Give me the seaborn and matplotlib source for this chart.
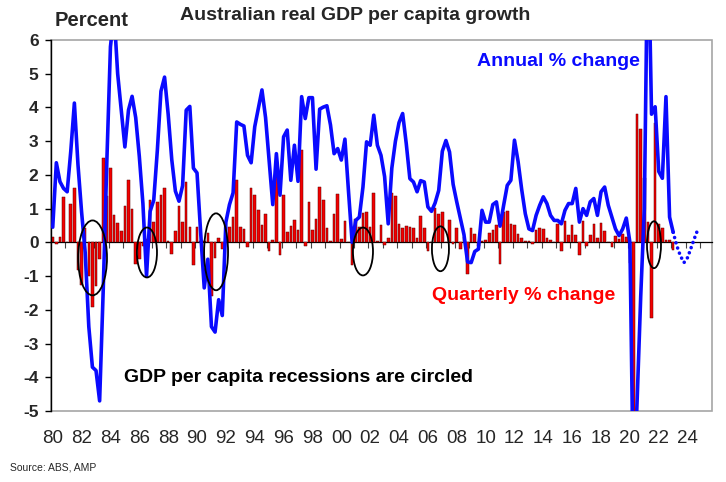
import numpy as np
import pandas as pd
import matplotlib
matplotlib.use("Agg")
import matplotlib.pyplot as plt
import seaborn as sns
from matplotlib.patches import Ellipse, Rectangle

# ---------------- data ----------------
first_year = 1980
# quarterly % change, 1980Q1 .. 2023Q1 (4 per row = one year)
quarterly_pct = [
    0.15, -0.05, 0.15, 1.35,   # 1980
    0.02, 1.15, 1.6, -0.82,    # 1981
    -1.25, 0.44, -1.0, -1.92,  # 1982
    -1.3, -0.5, 2.49, 1.36,    # 1983
    2.2, 0.8, 0.57, 0.33,      # 1984
    1.08, 1.86, 0.98, -0.65,   # 1985
    -0.5, -0.1, 0.1, 1.27,     # 1986
    0.6, 1.2, 1.4, 1.6,        # 1987
    0.05, -0.35, 0.35, 1.07,   # 1988
    0.6, 1.78, 0.47, -0.68,    # 1989
    0.47, 0.05, 0.05, 0.29,    # 1990
    -1.6, -0.47, 0.14, -0.2,   # 1991
    0.05, 0.45, 0.74, 1.85,    # 1992
    0.47, 0.4, -0.13, 1.6,     # 1993
    1.4, 0.96, 0.5, 0.84,      # 1994
    -0.27, 0.08, 1.95, -0.37,  # 1995
    1.39, 0.32, 0.49, 0.65,    # 1996
    0.37, 2.74, -0.11, 1.21,   # 1997
    0.37, 0.69, 1.63, 1.26,    # 1998
    0.44, 0.05, 0.85, 1.43,    # 1999
    0.1, 0.62, 0.02, -0.66,    # 2000
    0.68, 0.45, 0.88, 0.91,    # 2001
    0.47, 1.45, 0.03, 0.51,    # 2002
    -0.09, 0.14, 1.47, 1.36,   # 2003
    0.55, 0.42, 0.48, 0.45,    # 2004
    0.44, 0.12, 0.79, 0.44,    # 2005
    -0.25, 0.02, 1.03, 0.84,   # 2006
    0.89, 0.02, 0.65, -0.06,   # 2007
    0.44, -0.2, 0.15, -0.95,   # 2008
    0.42, 0.24, -0.11, 0.05,   # 2009
    0.08, 0.28, 0.36, 0.5,     # 2010
    -0.65, 0.9, 0.92, 0.55,    # 2011
    0.51, 0.26, 0.14, 0.05,    # 2012
    0.03, -0.05, 0.36, 0.44,   # 2013
    0.39, 0.12, 0.07, 0.02,    # 2014
    0.55, -0.27, 0.64, 0.23,   # 2015
    0.5, 0.21, -0.37, 0.64,    # 2016
    -0.11, 0.21, 0.54, 0.14,   # 2017
    0.58, 0.34, 0.02, -0.13,   # 2018
    0.18, 0.1, 0.26, 0.16,     # 2019
    -0.6, -7.0, 3.8, 3.35,     # 2020
    1.9, 0.6, -2.24, 3.55,     # 2021
    0.55, 0.44, 0.06, 0.07,    # 2022
    -0.24,                     # 2023
]
# annual % change, same quarters
annual_pct = [
    0.45, 2.36, 1.8, 1.6,      # 1980
    1.5, 2.7, 4.13, 2.3,       # 1981
    0.9, -0.3, -2.5, -3.7,     # 1982
    -3.8, -4.7, -1.4, 2.4,     # 1983
    5.8, 6.8, 5.0, 3.92,       # 1984
    2.83, 3.92, 4.33, 3.7,     # 1985
    2.55, 1.15, -1.0, 0.92,    # 1986
    1.25, 2.73, 4.48, 4.9,     # 1987
    3.8, 2.45, 1.52, 1.22,     # 1988
    1.68, 3.92, 4.03, 2.2,     # 1989
    2.06, 0.3, -1.35, -0.5,    # 1990
    -2.5, -2.66, -1.7, -2.17,  # 1991
    0.6, 1.12, 1.47, 3.57,     # 1992
    3.5, 3.45, 2.58, 2.36,     # 1993
    3.43, 3.97, 4.52, 3.7,     # 1994
    2.4, 1.12, 2.63, 1.4,      # 1995
    3.13, 3.33, 1.84, 2.88,    # 1996
    1.81, 4.32, 3.67, 4.29,    # 1997
    4.29, 2.17, 3.95, 4.01,    # 1998
    4.05, 3.48, 2.63, 2.78,    # 1999
    2.44, 3.06, 1.5, 0.0,      # 2000
    0.65, 0.75, 1.64, 2.98,    # 2001
    2.88, 3.77, 2.88, 2.58,    # 2002
    1.95, 0.55, 2.2, 3.0,      # 2003
    3.55, 3.82, 2.93, 1.89,    # 2004
    1.79, 1.5, 1.83, 1.79,     # 2005
    1.05, 0.92, 1.17, 1.54,    # 2006
    2.7, 3.02, 2.68, 1.72,     # 2007
    1.2, 0.72, 0.23, -0.58,    # 2008
    -0.6, -0.27, -0.2, 0.95,   # 2009
    0.6, 0.6, 1.12, 1.2,       # 2010
    0.48, 1.1, 1.69, 1.84,     # 2011
    3.03, 2.4, 1.57, 0.85,     # 2012
    0.4, 0.35, 0.8, 1.1,       # 2013
    1.35, 1.15, 0.8, 0.65,     # 2014
    0.65, 0.55, 0.95, 1.15,    # 2015
    1.15, 1.6, 0.6, 1.0,       # 2016
    0.8, 1.2, 1.3, 0.8,        # 2017
    1.5, 1.64, 1.1, 0.75,      # 2018
    0.4, 0.2, 0.4, 0.72,       # 2019
    0.0, -7.6, -4.7, -1.6,     # 2020
    1.0, 9.5, 3.8, 4.02,       # 2021
    2.1, 1.9, 4.32, 0.75,      # 2022
    0.3,                       # 2023
]
# dotted forecast of annual % change, from 2023Q1 onwards
forecast_pct = [0.3, -0.1, -0.4, -0.6, -0.45, -0.15, 0.15, 0.43]

tick_years = [1980, 1982, 1984, 1986, 1988, 1990, 1992, 1994, 1996, 1998, 2000,
              2002, 2004, 2006, 2008, 2010, 2012, 2014, 2016, 2018, 2020, 2022, 2024]
tick_labels = ["80", "82", "84", "86", "88", "90", "92", "94", "96", "98", "00",
               "02", "04", "06", "08", "10", "12", "14", "16", "18", "20", "22", "24"]
y_ticks = [-5, -4, -3, -2, -1, 0, 1, 2, 3, 4, 5, 6]

# recession circles: (centre year, centre value, width in years, height in %)
recession_circles = [
    (1982.76, -0.46, 2.00, 2.22),
    (1986.53, -0.30, 1.39, 1.48),
    (1991.32, -0.28, 1.66, 2.28),
    (2001.50, -0.27, 1.39, 1.42),
    (2006.87, -0.19, 1.18, 1.33),
    (2021.67, -0.07, 0.97, 1.39),
]

# ---------------- frames ----------------
n = len(quarterly_pct)
t = first_year + np.arange(n) / 4.0
df = pd.DataFrame({"t": t, "quarterly": quarterly_pct, "annual": annual_pct})
tf = first_year + (n - 1 + np.arange(len(forecast_pct))) / 4.0
df_f = pd.DataFrame({"t": tf, "annual": forecast_pct})

# ---------------- style ----------------
sns.set_style("white")
plt.rcParams["font.family"] = ["Liberation Sans", "DejaVu Sans"]
plt.rcParams["axes.unicode_minus"] = False

BLUE = "#0A0AFF"
fig = plt.figure(figsize=(7.26, 4.82), dpi=100)
ax = fig.add_axes([51 / 726, 71 / 482, 661 / 726, 371 / 482])

sns.barplot(data=df, x="t", y="quarterly", native_scale=True, width=0.72,
            color="#F20000", saturation=1, edgecolor="#5a0000", linewidth=0.35,
            errorbar=None, ax=ax, zorder=2)
sns.lineplot(data=df, x="t", y="annual", color=BLUE, linewidth=2.6,
             ax=ax, zorder=3, solid_joinstyle="round")
sns.lineplot(data=df_f, x="t", y="annual", color=BLUE, linewidth=2.6,
             linestyle=(0, (0.01, 1.5)), dash_capstyle="round", ax=ax, zorder=3)

for (xc, yc, w, h) in recession_circles:
    ax.add_patch(Ellipse((xc, yc), w, h, fill=False, edgecolor="black",
                         linewidth=1.3, zorder=5))

ax.set_xlim(1979.88, 2025.69)
ax.set_ylim(-5, 6)
ax.set_xlabel("")
ax.set_ylabel("")

# x labels at the bottom, no tick marks there
ax.set_xticks(tick_years)
ax.set_xticklabels(tick_labels)
ax.tick_params(axis="x", length=0, pad=14, labelsize=13.5)

# y axis
ax.set_yticks(y_ticks)
ax.tick_params(axis="y", length=4, width=1, color="black", direction="out",
               pad=5, labelsize=12.5, left=True)
for lab in ax.get_yticklabels():
    lab.set_fontweight("bold")

for s in ["top", "right", "bottom"]:
    ax.spines[s].set_visible(False)
ax.spines["left"].set_color("black")
ax.spines["left"].set_linewidth(1.0)
ax.add_patch(Rectangle((0, 0), 1, 1, transform=ax.transAxes, fill=False,
                       edgecolor="#A6A6A6", linewidth=1.2, clip_on=False, zorder=0))

# zero axis with yearly tick marks
zero_frac = (0 - (-5)) / (6 - (-5))
sec = ax.secondary_xaxis(zero_frac)
sec.set_xticks([y - 0.125 for y in range(1981, 2026)])
sec.set_xticklabels([])
sec.tick_params(length=4, width=0.8, color="#444444", direction="out")
sec.spines["bottom"].set_color("black")
sec.spines["bottom"].set_linewidth(0.9)

# ---------------- texts ----------------
def fx(px):
    return px / 726

def fy(py):
    return 1 - py / 482

fig.text(fx(355), fy(15), "Australian real GDP per capita growth", ha="center",
         va="center", fontsize=14, fontweight="bold")
fig.text(fx(55), fy(20), "Percent", ha="left", va="center", fontsize=14.5,
         fontweight="bold")
fig.text(fx(558), fy(61), "Annual % change", ha="center", va="center",
         fontsize=14, fontweight="bold", color=BLUE)
fig.text(fx(524), fy(295), "Quarterly % change", ha="center", va="center",
         fontsize=14, fontweight="bold", color="#FF0000")
fig.text(fx(298), fy(377), "GDP per capita recessions are circled", ha="center",
         va="center", fontsize=14, fontweight="bold", color="black")
fig.text(fx(10), fy(468), "Source: ABS, AMP", ha="left", va="center",
         fontsize=7.5)

fig.savefig("out.png", dpi=100)
